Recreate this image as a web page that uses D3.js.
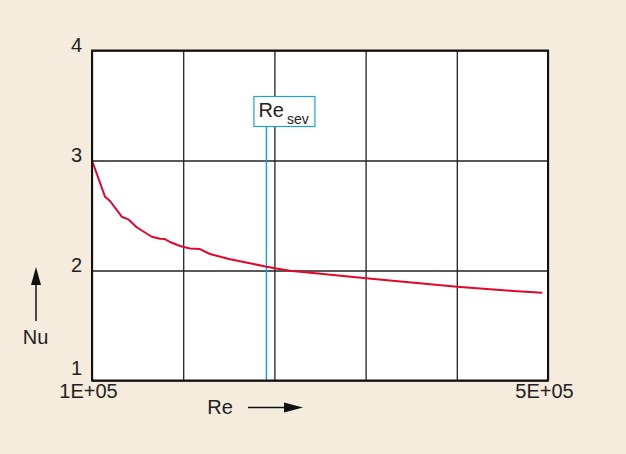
<!DOCTYPE html>
<html>
<head>
<meta charset="utf-8">
<script src="https://cdn.jsdelivr.net/npm/d3@7"></script>
<style>
  html, body { margin: 0; padding: 0; background: #f6ecdd; }
  svg { display: block; }
  text { font-family: "Liberation Sans", Arial, sans-serif; fill: #222; }
</style>
</head>
<body>
<svg id="chart" width="626" height="454"></svg>
<script>
// Nusselt number against Reynolds number
const reValues = [1.0e5, 1.114e5, 1.158e5, 1.261e5, 1.318e5, 1.392e5, 1.524e5, 1.596e5, 1.640e5,
                  1.684e5, 1.772e5, 1.86e5, 1.947e5, 2.035e5, 2.21e5, 2.386e5, 2.532e5, 2.605e5,
                  2.737e5, 3.026e5, 3.404e5, 3.614e5, 4.202e5, 4.693e5, 4.95e5];
const nuValues = [3.0, 2.671, 2.632, 2.489, 2.465, 2.393, 2.307, 2.289, 2.286,
                  2.259, 2.223, 2.2, 2.195, 2.15, 2.102, 2.065, 2.035, 2.02,
                  1.998, 1.968, 1.929, 1.909, 1.853, 1.814, 1.798];

const xTickValues = [1e5, 1.8e5, 2.6e5, 3.4e5, 4.2e5, 5e5];
const xTickLabels = ["1E+05", "", "", "", "", "5E+05"];
const yTickValues = [1, 2, 3, 4];
const reSev = 2.53e5;

const margin = { left: 92, top: 50.5, width: 456, height: 330 };
const svg = d3.select("#chart");

const x = d3.scaleLinear().domain([1e5, 5e5]).range([0, margin.width]);
const y = d3.scaleLinear().domain([1, 4]).range([margin.height, 0]);

const g = svg.append("g").attr("transform", `translate(${margin.left},${margin.top})`);

g.append("rect")
  .attr("width", margin.width).attr("height", margin.height)
  .attr("fill", "#fff");

// Grid lines via axes
const yAxis = g.append("g")
  .call(d3.axisLeft(y).tickValues(yTickValues).tickSize(-margin.width).tickFormat(d3.format("d")));
yAxis.select(".domain").remove();
yAxis.selectAll(".tick line").attr("stroke", "#222").attr("stroke-width", 1.3);
yAxis.selectAll(".tick text")
  .attr("x", -10)
  .attr("dy", d => d === 1 ? "-0.3em" : "0.05em")
  .attr("font-size", 20)
  .attr("font-family", "Liberation Sans, Arial, sans-serif")
  .attr("fill", "#222");

const xAxis = g.append("g")
  .attr("transform", `translate(0,${margin.height})`)
  .call(d3.axisBottom(x).tickValues(xTickValues).tickSize(-margin.height)
    .tickFormat((d, i) => xTickLabels[i]));
xAxis.select(".domain").remove();
xAxis.selectAll(".tick line").attr("stroke", "#222").attr("stroke-width", 1.3);
xAxis.selectAll(".tick text")
  .attr("y", 3)
  .attr("dx", -4)
  .attr("font-size", 20)
  .attr("font-family", "Liberation Sans, Arial, sans-serif")
  .attr("fill", "#222");

// Critical Reynolds number marker
const xs = x(reSev);
g.append("line")
  .attr("x1", xs).attr("x2", xs)
  .attr("y1", 76).attr("y2", margin.height)
  .attr("stroke", "#1ea0dc").attr("stroke-width", 1.5);

const box = g.append("g").attr("transform", `translate(${xs - 12.5},${46})`);
box.append("rect")
  .attr("width", 61).attr("height", 30)
  .attr("fill", "#fff").attr("stroke", "#1ea0dc").attr("stroke-width", 1.2);
const lbl = box.append("text").attr("x", 4.5).attr("y", 20.5).attr("font-size", 20);
lbl.append("tspan").text("Re");
lbl.append("tspan").attr("font-size", 14).attr("dx", 3).attr("dy", 6.5).text("sev");

// Curve
const line = d3.line().x((d, i) => x(reValues[i])).y(d => y(d));
g.append("path")
  .datum(nuValues)
  .attr("d", line)
  .attr("fill", "none")
  .attr("stroke", "#e2062c")
  .attr("stroke-width", 2)
  .attr("stroke-linejoin", "round");

// Plot border
g.append("rect")
  .attr("width", margin.width).attr("height", margin.height)
  .attr("fill", "none").attr("stroke", "#111").attr("stroke-width", 2);

// Axis titles with arrows
svg.append("text").attr("x", 35.5).attr("y", 344).attr("text-anchor", "middle")
  .attr("font-size", 20).text("Nu");
svg.append("line").attr("x1", 36).attr("x2", 36).attr("y1", 321).attr("y2", 283)
  .attr("stroke", "#111").attr("stroke-width", 1.5);
svg.append("path").attr("d", "M36,267 L31,285 L41,285 Z").attr("fill", "#111");

svg.append("text").attr("x", 220).attr("y", 414).attr("text-anchor", "middle")
  .attr("font-size", 20).text("Re");
svg.append("line").attr("x1", 248).attr("x2", 286).attr("y1", 407.5).attr("y2", 407.5)
  .attr("stroke", "#111").attr("stroke-width", 1.5);
svg.append("path").attr("d", "M303,407.5 L284,402.5 L284,412.5 Z").attr("fill", "#111");
</script>
</body>
</html>
